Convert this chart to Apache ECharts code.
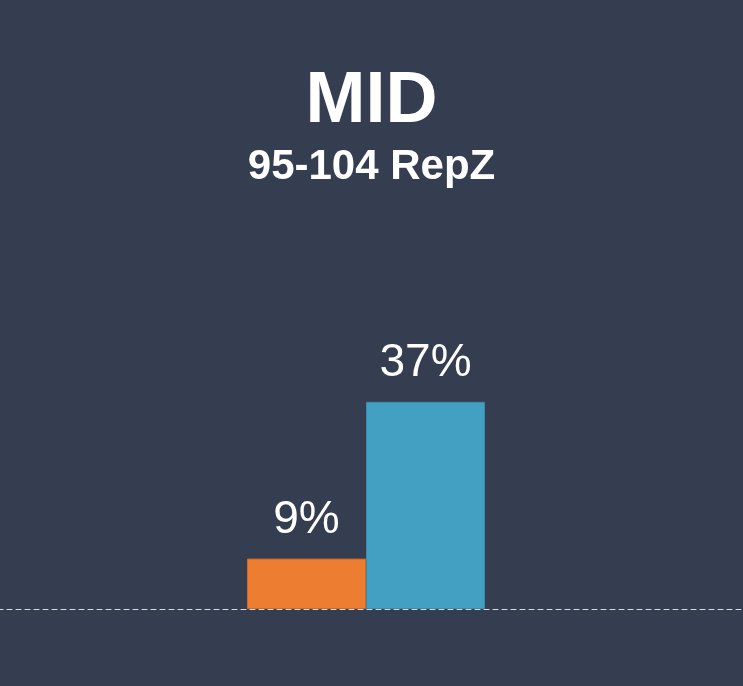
<!DOCTYPE html>
<html>
<head>
<meta charset="utf-8">
<script src="https://cdn.jsdelivr.net/npm/echarts@6/dist/echarts.min.js"></script>
<style>
  html, body { margin: 0; padding: 0; background: #343e50; }
  #chart { width: 743px; height: 686px; }
</style>
</head>
<body>
<div id="chart"></div>
<script>
// chart data
const categories = ['MID'];
const seriesNames = ['Before', 'After'];
const seriesValues = [[9], [37]];
const seriesColors = ['#ed7d31', '#43a0c2'];
const borderColors = ['#c9692a', '#3a8aa8'];

const titleText = 'MID';
const subtitleText = '95-104 RepZ';

const chart = echarts.init(document.getElementById('chart'));

let series = seriesNames.map(function (name, i) {
  return {
    name: name,
    type: 'bar',
    data: seriesValues[i],
    barWidth: 119,
    barGap: '0%',
    itemStyle: {
      color: seriesColors[i],
      borderColor: borderColors[i],
      borderWidth: 1
    },
    label: {
      show: true,
      position: 'top',
      distance: 15,
      formatter: '{c}%',
      color: '#ffffff',
      fontSize: 46,
      fontFamily: 'Liberation Sans, Arial, sans-serif'
    }
  };
});

let option = {
  backgroundColor: '#343e50',
  animation: false,
  title: [
    {
      text: titleText,
      left: 'center',
      top: 61,
      textStyle: {
        color: '#ffffff',
        fontSize: 72,
        fontWeight: 'bold',
        fontFamily: 'Liberation Sans, Arial, sans-serif'
      }
    },
    {
      text: subtitleText,
      left: 'center',
      top: 141,
      textStyle: {
        color: '#ffffff',
        fontSize: 42,
        fontWeight: 'bold',
        fontFamily: 'Liberation Sans, Arial, sans-serif'
      }
    }
  ],
  grid: {
    left: -11,
    right: 0,
    top: 49,
    bottom: 77,
    outerBoundsMode: 'none',
    containLabel: false
  },
  xAxis: {
    type: 'category',
    data: categories,
    axisLine: {
      show: true,
      lineStyle: { color: '#d6dbe3', width: 1, type: [5, 4] }
    },
    axisTick: { show: false },
    axisLabel: { show: false }
  },
  yAxis: {
    type: 'value',
    min: 0,
    max: 100,
    show: false,
    splitLine: { show: false }
  },
  series: series
};

chart.setOption(option);
</script>
</body>
</html>
